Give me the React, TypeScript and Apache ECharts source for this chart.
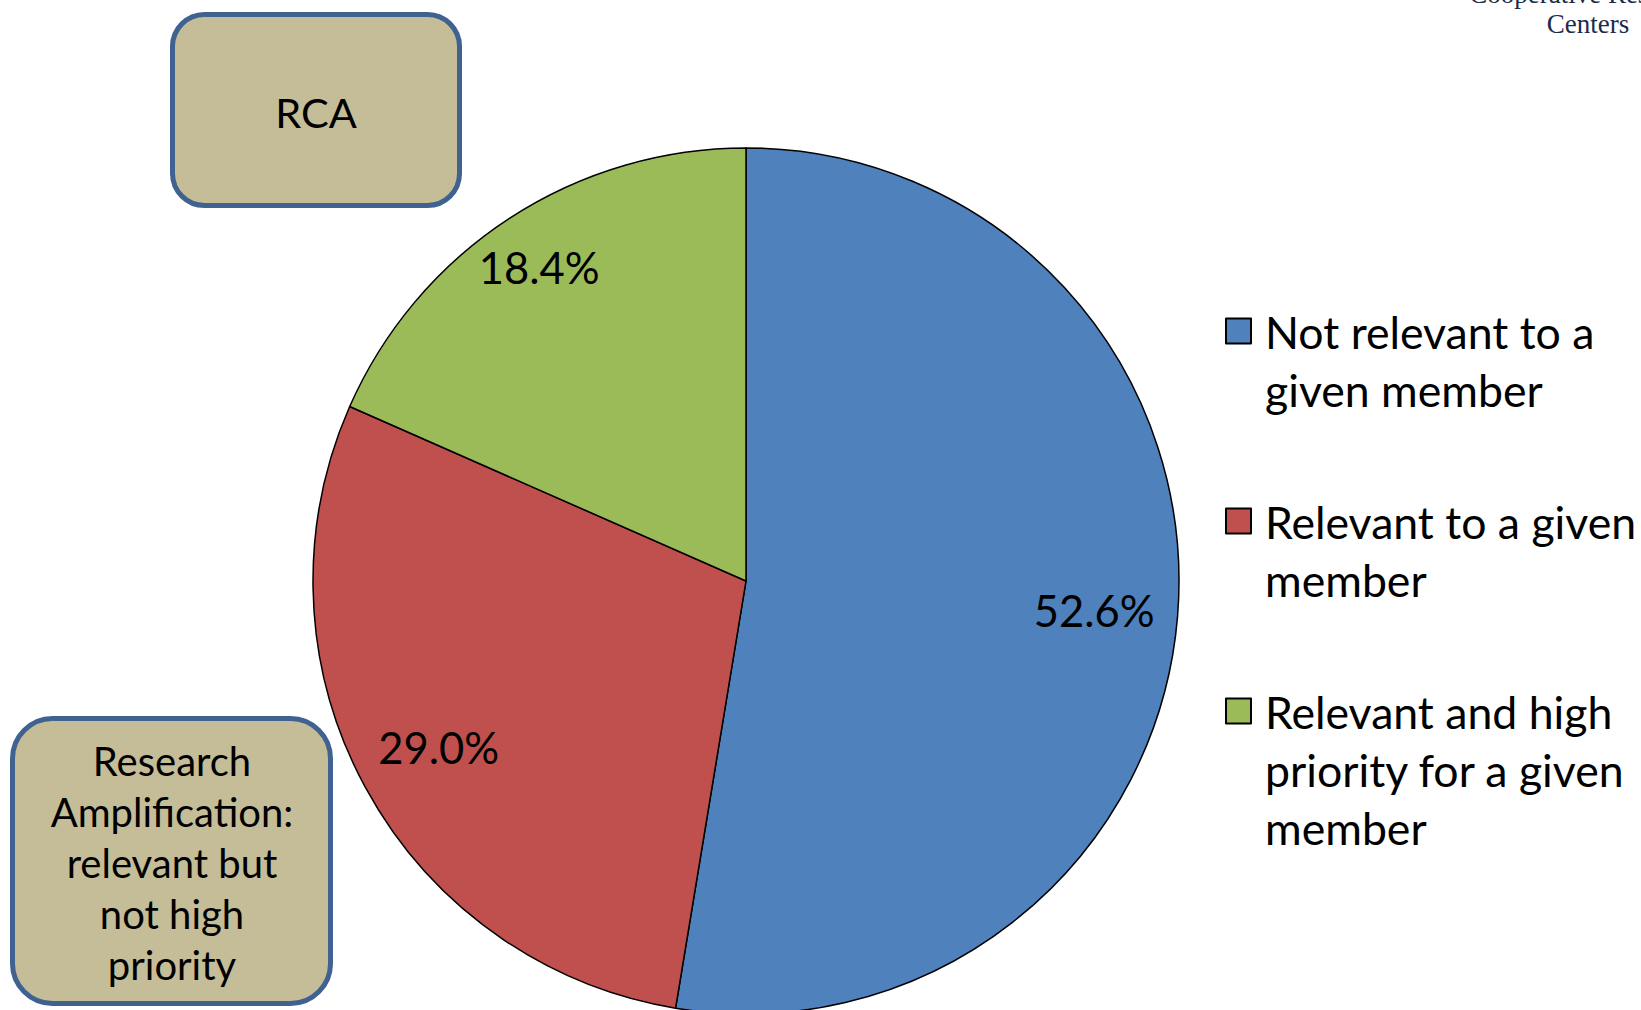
import React, { useEffect, useRef } from "react";
import * as echarts from "echarts";

const categories = [
  "Not relevant to a\ngiven member",
  "Relevant to a given\nmember",
  "Relevant and high\npriority for a given\nmember",
];
const values = [52.6, 29.0, 18.4];
const colors = ["#4F81BD", "#C0504D", "#9BBB59"];
const boxTexts = ["RCA", "Research\nAmplification:\nrelevant but\nnot high\npriority"];
const cornerText = "Cooperative Research\nCenters";

const FONT = "Lato";

export default function App() {
  const ref = useRef<HTMLDivElement>(null);
  useEffect(() => {
    document.body.style.margin = "0";
    const chart = echarts.init(ref.current!, null, { renderer: "svg" });
    const R = 433;
    const L = 58;
    const legendCenters = [331, 521, 711];
    const legends = categories.map((name, i) => {
      const n = name.split("\n").length;
      return {
        show: true,
        orient: "vertical",
        left: 1225,
        top: legendCenters[i] - ((2 * n - 1) * L) / 2,
        padding: 0,
        icon: "rect",
        itemWidth: 25,
        itemHeight: 25,
        selectedMode: false,
        data: [{ name }],
        formatter: (nm: string) => "\n".repeat(nm.split("\n").length - 1) + nm,
        textStyle: {
          fontFamily: FONT,
          fontSize: 44.6,
          lineHeight: L,
          color: "#000",
          padding: [0, 0, 0, 9],
        },
      };
    });
    chart.setOption({
      animation: false,
      backgroundColor: "#fff",
      legend: legends,
      graphic: [
        {
          type: "rect",
          shape: { x: 172.5, y: 14.5, width: 287, height: 191, r: 32 },
          style: { fill: "#C4BD97", stroke: "#3F6290", lineWidth: 5 },
        },
        {
          type: "text",
          style: {
            text: boxTexts[0],
            x: 316,
            y: 112,
            textAlign: "center",
            textVerticalAlign: "middle",
            fontFamily: FONT,
            fontSize: 41.5,
            fill: "#000",
          },
        },
        {
          type: "rect",
          shape: { x: 12.5, y: 718.5, width: 318, height: 285, r: 40 },
          style: { fill: "#C4BD97", stroke: "#3F6290", lineWidth: 5 },
        },
        {
          type: "text",
          style: {
            text: boxTexts[1],
            x: 172,
            y: 863,
            textAlign: "center",
            textVerticalAlign: "middle",
            fontFamily: FONT,
            fontSize: 40,
            lineHeight: 51,
            fill: "#000",
          },
        },
        {
          type: "text",
          style: {
            text: cornerText,
            x: 1588,
            y: 39,
            textAlign: "center",
            textVerticalAlign: "bottom",
            fontFamily: "Liberation Serif",
            fontSize: 27,
            lineHeight: 30,
            fill: "#1C2B4A",
          },
        },
      ],
      series: [
        {
          type: "pie",
          center: [746, 581],
          radius: R,
          startAngle: 90,
          clockwise: true,
          silent: true,
          label: { show: false },
          labelLine: { show: false },
          itemStyle: { borderColor: "#000", borderWidth: 1.5 },
          emphasis: { disabled: true },
          data: categories.map((name, i) => ({
            name,
            value: values[i],
            itemStyle: { color: colors[i] },
          })),
        },
        {
          type: "pie",
          center: [746, 581],
          radius: [R * 0.6, R],
          startAngle: 90,
          clockwise: true,
          silent: true,
          emphasis: { disabled: true },
          itemStyle: { color: "rgba(0,0,0,0)", borderWidth: 0 },
          labelLine: { show: false },
          label: {
            show: true,
            position: "inside",
            color: "#000",
            fontFamily: FONT,
            fontSize: 43.5,
            formatter: (p: any) => p.value.toFixed(1) + "%",
          },
          data: categories.map((name, i) => ({
            name,
            value: values[i],
            label: i === 2 ? { offset: [-16, -21] } : undefined,
          })),
        },
      ],
    });
    return () => chart.dispose();
  }, []);
  return (
    <div
      ref={ref}
      style={{ position: "absolute", left: 0, top: 0, width: 1641, height: 1010 }}
    />
  );
}
